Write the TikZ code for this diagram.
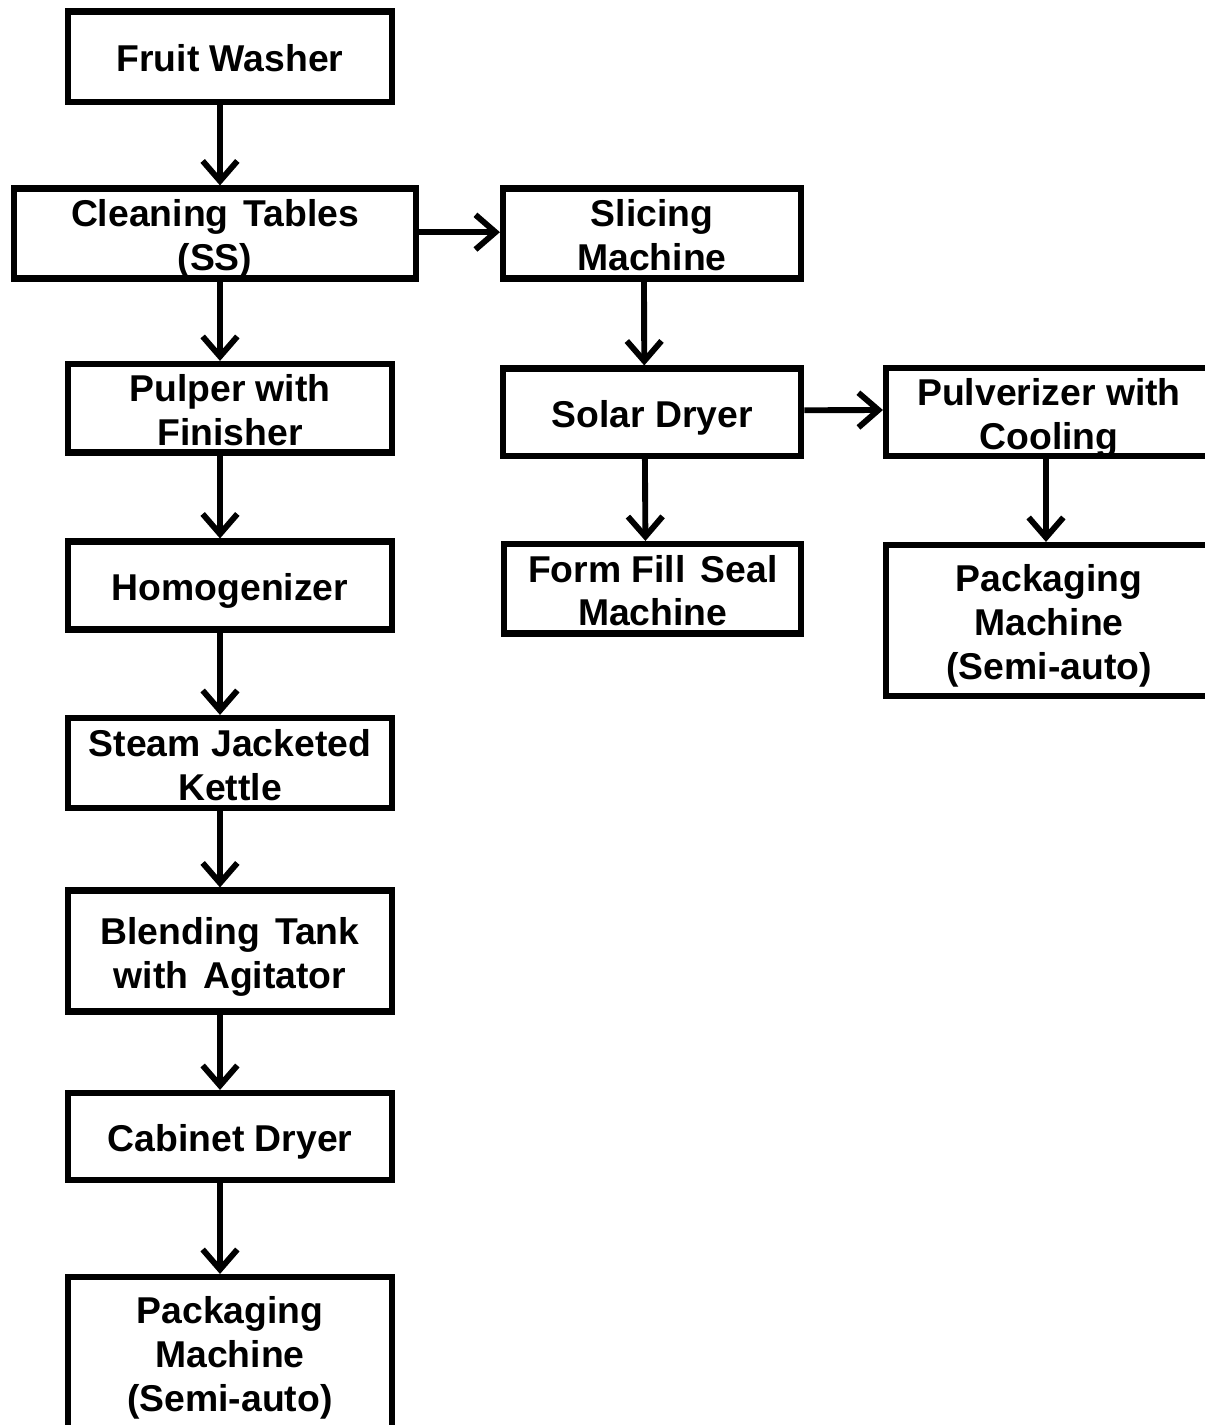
\documentclass[tikz,border=0pt]{standalone}
\usepackage{fontspec}
\setmainfont{Liberation Sans}
\usetikzlibrary{arrows.meta}
\newcommand\boxtext[1]{\raisebox{-4.8pt}[\height][\depth]{\begin{tabular}{@{}c@{}}#1\end{tabular}}}
\tikzset{
  box/.style={draw=black, line width=4.6pt, fill=white, inner sep=0pt,
    font=\fontsize{28pt}{32.8pt}\selectfont\bfseries},
  arr/.style={line width=4.4pt, -{Straight Barb[length=15pt,width=26pt,line width=4.4pt]}}
}
\begin{document}
\begin{tikzpicture}[x=0.75pt,y=-0.75pt]
\useasboundingbox (0,0) rectangle (1205,1425);
\clip (0,0) rectangle (1205,1425);
\fill[white] (0,0) rectangle (1205,1425);
% left column
\node[box, minimum width=243pt, minimum height=67.9pt] (fw) at (230,56.75) {\boxtext{Fruit Washer}};
\node[box, minimum width=301.5pt, minimum height=67.5pt] (cl) at (215,233.5) {\boxtext{Cleaning\hspace{0.12em} Tables\\(SS)}};
\node[box, minimum width=243pt, minimum height=66.4pt] (pu) at (230,408.25) {\boxtext{Pulper with\\Finisher}};
\node[box, minimum width=243pt, minimum height=66pt] (ho) at (230,585.5) {\boxtext{Homogenizer}};
\node[box, minimum width=243pt, minimum height=67.5pt] (st) at (230,763) {\boxtext{Steam Jacketed\\Kettle}};
\node[box, minimum width=243pt, minimum height=90.75pt] (bl) at (230,951) {\boxtext{Blending\hspace{0.12em} Tank\\with\hspace{0.12em} Agitator}};
\node[box, minimum width=243pt, minimum height=65.25pt] (ca) at (230,1136.5) {\boxtext{Cabinet Dryer}};
\node[box, minimum width=243pt, minimum height=113.25pt] (pk1) at (230,1352.5) {\boxtext{Packaging\\Machine\\(Semi-auto)}};
% middle column
\node[box, minimum width=223.5pt, minimum height=67.5pt] (sl) at (652,233.5) {\boxtext{Slicing\\Machine}};
\node[box, minimum width=223.5pt, minimum height=65.6pt] (so) at (652.25,412.25) {\boxtext{Solar Dryer}};
\node[box, minimum width=223pt, minimum height=67.1pt] (ff) at (652.75,588.75) {\boxtext{Form Fill\hspace{0.12em} Seal\\Machine}};
% right column
\node[box, minimum width=244.5pt, minimum height=66pt] (pv) at (1049,412) {\boxtext{Pulverizer with\\Cooling}};
\node[box, minimum width=244.5pt, minimum height=113.25pt] (pk2) at (1049,620.5) {\boxtext{Packaging\\Machine\\(Semi-auto)}};
% connectors
\draw[arr] ([xshift=-7.5pt]fw.south) -- ([xshift=3.75pt]cl.north);
\draw[arr] ([xshift=3.75pt]cl.south) -- ([xshift=-7.5pt]pu.north);
\draw[arr] ([xshift=-7.5pt]pu.south) -- ([xshift=-7.5pt]ho.north);
\draw[arr] ([xshift=-7.5pt]ho.south) -- ([xshift=-7.5pt]st.north);
\draw[arr] ([xshift=-7.5pt]st.south) -- ([xshift=-7.5pt]bl.north);
\draw[arr] ([xshift=-7.5pt]bl.south) -- ([xshift=-7.5pt]ca.north);
\draw[arr] ([xshift=-7.5pt]ca.south) -- ([xshift=-7.5pt]pk1.north);
\draw[arr] ([yshift=1pt]cl.east) -- ([yshift=1pt]sl.west);
\draw[arr] ([xshift=-6pt]sl.south) -- ([xshift=-6pt]so.north);
\draw[arr] ([xshift=-5.5pt]so.south) -- ([xshift=-5.5pt]ff.north);
\draw[arr] ([yshift=1.5pt]so.east) -- ([yshift=1.5pt]pv.west);
\draw[arr] ([xshift=-2.25pt]pv.south) -- ([xshift=-2.25pt]pk2.north);
\end{tikzpicture}
\end{document}
